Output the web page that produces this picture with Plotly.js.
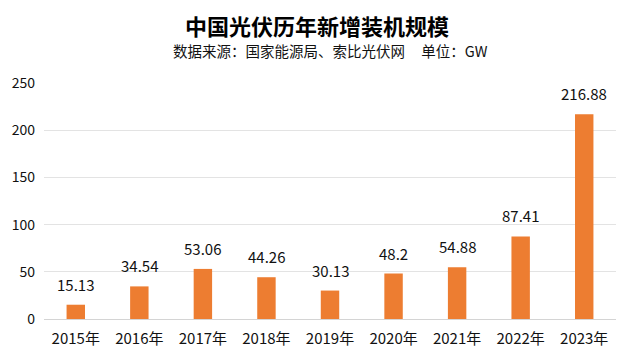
<!DOCTYPE html>
<html><head><meta charset="utf-8">
<script src="https://cdn.plot.ly/plotly-3.0.1.min.js"></script>
<style>html,body{margin:0;padding:0;background:#fff}#c{width:634px;height:360px}</style>
</head><body><div id="c"></div>
<script>
const years = ["2015年","2016年","2017年","2018年","2019年","2020年","2021年","2022年","2023年"];
const installed = [15.13, 34.54, 53.06, 44.26, 30.13, 48.2, 54.88, 87.41, 216.88];
const yTicks = [0, 50, 100, 150, 200, 250];
const FONT = '"Microsoft YaHei","Noto Sans CJK SC","Noto Sans",sans-serif';

const trace = {
  type: 'bar', x: years, y: installed,
  marker: {color: '#ED7D31'},
  hoverinfo: 'x+y'
};
const annotations = years.map((yr, i) => ({
  x: yr, y: installed[i], text: String(installed[i]),
  showarrow: false, yanchor: 'bottom', yshift: 8,
  font: {family: FONT, size: 15, color: '#111'}
}));
annotations.push({
  xref: 'paper', yref: 'paper', x: 0.5, y: 1, yshift: 20, xanchor: 'center', yanchor: 'bottom',
  showarrow: false, text: '数据来源：国家能源局、索比光伏网&nbsp;&nbsp;&nbsp;&nbsp;&nbsp;单位：GW',
  font: {family: FONT, size: 14.5, color: '#111'}
});
const layout = {
  width: 634, height: 360,
  margin: {l: 44, r: 18, t: 83, b: 41},
  paper_bgcolor: '#fff', plot_bgcolor: '#fff',
  title: {text: '<b>中国光伏历年新增装机规模</b>', x: 0.5, xanchor: 'center', y: 0.925, yanchor: 'middle',
    font: {family: FONT, size: 22, color: '#000'}},
  bargap: 0.71,
  showlegend: false,
  xaxis: {type: 'category', tickfont: {family: FONT, size: 15, color: '#111'}, showline: false,
    ticks: '', showgrid: false, zeroline: false, ticklabelstandoff: 9},
  yaxis: {range: [0, 250], tickvals: yTicks, tickfont: {family: FONT, size: 14, color: '#111'},
    gridcolor: '#e3e3e3', zeroline: true, zerolinecolor: '#d4d4d4', zerolinewidth: 1,
    ticks: '', ticklabelstandoff: 8, showline: false},
  annotations: annotations
};
Plotly.newPlot('c', [trace], layout, {displayModeBar: false, staticPlot: true});
</script></body></html>
